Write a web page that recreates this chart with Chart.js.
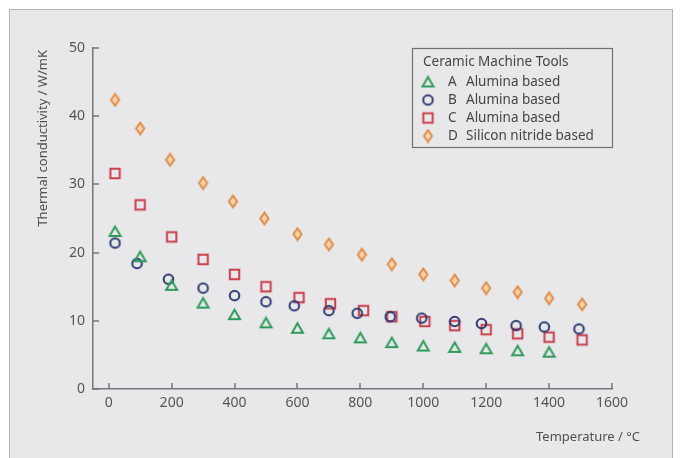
<!DOCTYPE html>
<html lang="en">
<head>
  <meta charset="UTF-8" />
  <title>Ceramic Machine Tools - Thermal conductivity</title>
  <script src="https://cdn.jsdelivr.net/npm/chart.js"></script>
  <style>
    html, body { margin: 0; padding: 0; background: #fff; overflow: hidden; }
    #frame {
      position: absolute; left: 9px; top: 9px; width: 662px; height: 470px;
      border: 1.5px solid #b4b4b6; background: #e8e8ea;
    }
    #chart { position: absolute; left: 0; top: 0; }
  </style>
</head>
<body>
  <div id="frame"></div>
  <canvas id="chart" width="681" height="458"></canvas>

  <script>
    // series data
    const seriesLetters = ["A", "B", "C", "D"];
    const seriesNames = ["Alumina based", "Alumina based", "Alumina based", "Silicon nitride based"];

    const aX = [20, 100, 200, 300, 400, 500, 600, 700, 800, 900, 1000, 1100, 1200, 1300, 1400];
    const aY = [23.1, 19.4, 15.2, 12.6, 10.9, 9.7, 8.9, 8.1, 7.5, 6.8, 6.3, 6.1, 5.9, 5.6, 5.4];

    const bX = [20, 90, 190, 300, 400, 500, 590, 700, 790, 895, 995, 1100, 1185, 1295, 1385, 1495];
    const bY = [21.4, 18.4, 16.1, 14.8, 13.7, 12.8, 12.2, 11.5, 11.1, 10.6, 10.4, 9.9, 9.6, 9.3, 9.1, 8.8];

    const cX = [20, 100, 200, 300, 400, 500, 605, 705, 810, 900, 1005, 1100, 1200, 1300, 1400, 1505];
    const cY = [31.6, 27.0, 22.3, 19.0, 16.8, 15.0, 13.4, 12.5, 11.5, 10.6, 9.9, 9.3, 8.7, 8.1, 7.6, 7.2];

    const dX = [20, 100, 195, 300, 395, 495, 600, 700, 805, 900, 1000, 1100, 1200, 1300, 1400, 1505];
    const dY = [42.4, 38.2, 33.6, 30.2, 27.5, 25.0, 22.7, 21.2, 19.7, 18.3, 16.8, 15.9, 14.8, 14.2, 13.3, 12.4];

    const xTicks = [0, 200, 400, 600, 800, 1000, 1200, 1400, 1600];
    const yTicks = [0, 10, 20, 30, 40, 50];

    const legendTitle = "Ceramic Machine Tools";
    const xTitle = "Temperature / °C";
    const yTitle = "Thermal conductivity / W/mK";

    const FONT = "'Noto Sans', 'Open Sans', sans-serif";
    const AXIS = "#76767a";

    // little canvases used as point styles (hollow markers)
    function makeMarker(shape, stroke, fill) {
      const c = document.createElement("canvas");
      c.width = 15; c.height = 15;
      const g = c.getContext("2d");
      g.strokeStyle = stroke;
      g.lineWidth = 2;
      g.lineJoin = "miter";
      g.beginPath();
      if (shape === "triangle") {
        g.moveTo(7.5, 2.4); g.lineTo(13, 12); g.lineTo(2, 12); g.closePath();
      } else if (shape === "circle") {
        g.arc(7.5, 7.5, 4.8, 0, Math.PI * 2);
      } else if (shape === "square") {
        g.rect(2.8, 2.8, 9.4, 9.4);
      } else {
        g.moveTo(7.5, 1.6); g.lineTo(11.6, 7.5); g.lineTo(7.5, 13.4); g.lineTo(3.4, 7.5); g.closePath();
      }
      if (fill) { g.fillStyle = fill; g.fill(); }
      g.stroke();
      return c;
    }

    const markers = [
      makeMarker("triangle", "#2e9b5c"),
      makeMarker("circle", "#2d3a70"),
      makeMarker("square", "#c93f4c"),
      makeMarker("diamond", "#e08f4a", "#f7d4b0")
    ];

    function pts(xs, ys) {
      return xs.map((x, i) => ({ x: x, y: ys[i] }));
    }
    const allData = [pts(aX, aY), pts(bX, bY), pts(cX, cY), pts(dX, dY)];

    // inside tick marks, axis titles and the boxed legend
    const decor = {
      id: "decor",
      afterDraw(chart) {
        const ctx = chart.ctx;
        const xs = chart.scales.x, ys = chart.scales.y;
        const area = chart.chartArea;
        ctx.save();
        ctx.strokeStyle = AXIS;
        ctx.lineWidth = 1.5;
        xs.ticks.forEach(t => {
          const px = Math.round(xs.getPixelForValue(t.value));
          ctx.beginPath(); ctx.moveTo(px, area.bottom); ctx.lineTo(px, area.bottom - 6); ctx.stroke();
        });
        ys.ticks.forEach(t => {
          const py = Math.round(ys.getPixelForValue(t.value));
          ctx.beginPath(); ctx.moveTo(area.left, py); ctx.lineTo(area.left + 6, py); ctx.stroke();
        });

        ctx.fillStyle = "#505052";
        ctx.font = "13px " + FONT;
        ctx.textBaseline = "middle";
        ctx.textAlign = "left";
        ctx.fillText(xTitle, 536, 437);

        ctx.save();
        ctx.translate(43, 50);
        ctx.rotate(-Math.PI / 2);
        ctx.textAlign = "right";
        ctx.fillText(yTitle, 0, 0);
        ctx.restore();

        // legend box
        ctx.strokeStyle = "#707072";
        ctx.lineWidth = 1.2;
        ctx.strokeRect(412.5, 48.5, 200, 99);
        ctx.fillStyle = "#454547";
        ctx.font = "13.5px " + FONT;
        ctx.textAlign = "left";
        ctx.fillText(legendTitle, 423, 62);
        chart.data.datasets.forEach((ds, i) => {
          const y = 82 + i * 18;
          const m = ds.pointStyle;
          ctx.drawImage(m, 428 - m.width / 2, y - m.height / 2);
          ctx.fillText(seriesLetters[i], 448, y);
          ctx.fillText(seriesNames[i], 466, y);
        });
        ctx.restore();
      }
    };

    new Chart(document.getElementById("chart"), {
      type: "scatter",
      data: {
        datasets: allData.map((d, i) => ({
          label: seriesLetters[i] + " " + seriesNames[i],
          data: d,
          pointStyle: markers[i],
          pointRadius: 6
        }))
      },
      options: {
        responsive: false,
        animation: false,
        layout: { padding: { top: 48, right: 69, left: 0, bottom: 0 } },
        plugins: { legend: { display: false }, tooltip: { enabled: false } },
        scales: {
          x: {
            type: "linear",
            min: -50,
            max: 1600,
            afterBuildTicks: s => { s.ticks = xTicks.map(v => ({ value: v })); },
            afterFit: s => { s.height = 69; },
            grid: { display: false, drawTicks: false },
            border: { display: true, color: AXIS, width: 1.5 },
            ticks: {
              color: "#555557", font: { family: FONT, size: 14 }, padding: 6, maxRotation: 0,
              callback: v => String(v)
            }
          },
          y: {
            min: 0,
            max: 50,
            afterBuildTicks: s => { s.ticks = yTicks.map(v => ({ value: v })); },
            afterFit: s => { s.width = 93; },
            grid: { display: false, drawTicks: false },
            border: { display: true, color: AXIS, width: 1.5 },
            ticks: { color: "#555557", font: { family: FONT, size: 14 }, padding: 8, callback: v => String(v) }
          }
        }
      },
      plugins: [decor]
    });
  </script>
</body>
</html>
